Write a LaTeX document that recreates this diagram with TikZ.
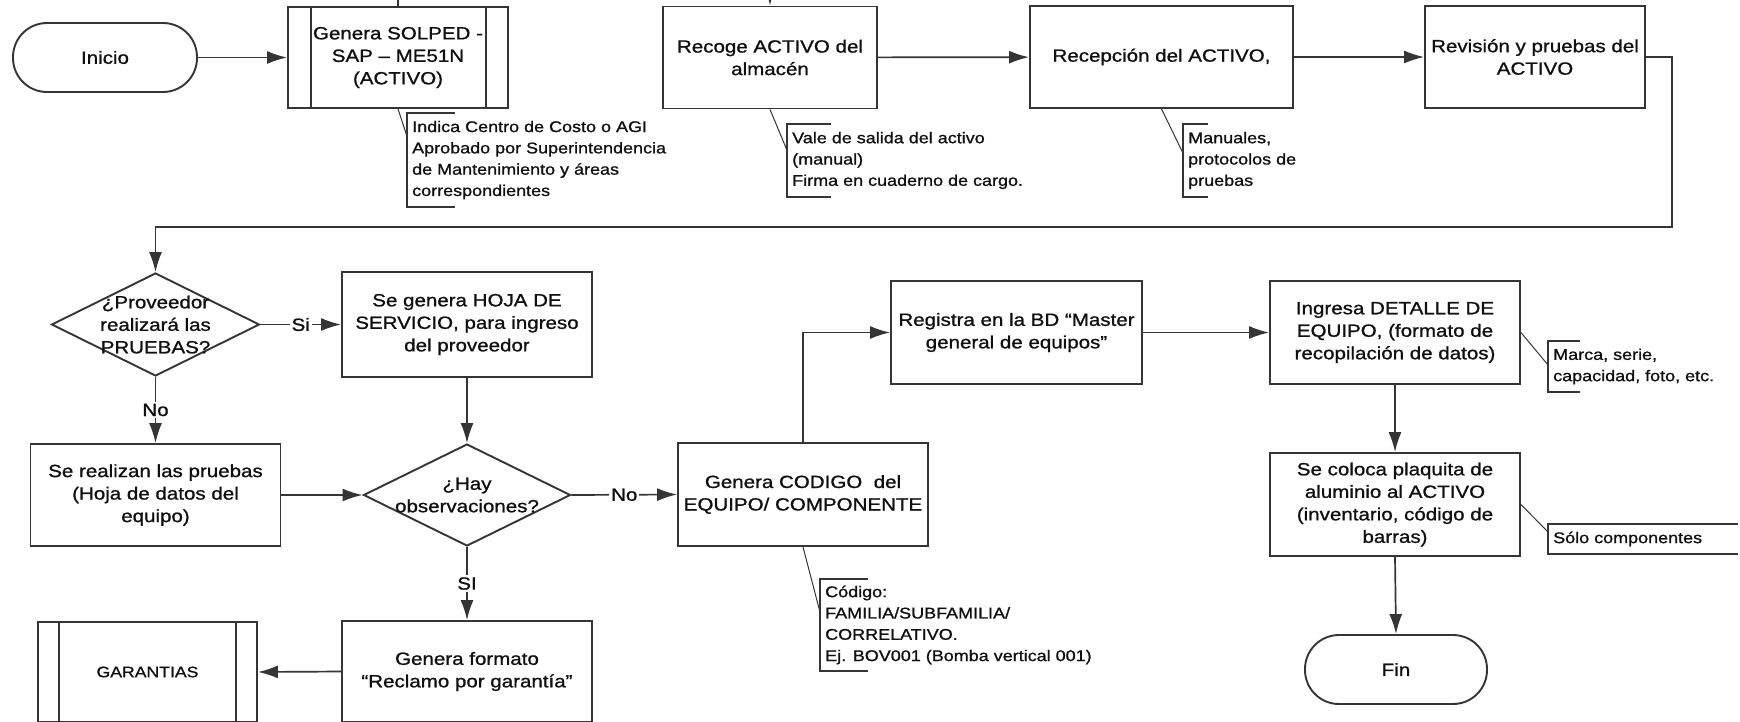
\documentclass[tikz,border=0pt]{standalone}
\usepackage{fontspec}
\setmainfont{Liberation Sans}[FakeStretch=1.16,FakeBold=1]
\usetikzlibrary{arrows.meta,shapes.geometric,calc}

\definecolor{ink}{HTML}{353535}
\definecolor{txt}{HTML}{101010}

\begin{document}
\begin{tikzpicture}[x=1pt,y=-1pt,
  every node/.style={text=txt},
  proc/.style={draw=ink, line width=1.9pt, align=center, inner sep=0pt,
    font=\fontsize{17.7}{22.5}\selectfont},
  term/.style={proc, rounded corners=34pt},
  decision/.style={draw=ink, line width=1.9pt, diamond, inner sep=0pt},
  qtext/.style={align=center, inner sep=0pt, font=\fontsize{17.7}{22.5}\selectfont},
  note/.style={align=left, anchor=west, inner xsep=5pt, inner ysep=0pt,
    font=\fontsize{15.5}{21.3}\selectfont},
  bracket/.style={draw=ink, line width=2pt},
  link/.style={draw=ink, line width=1pt},
  flow/.style={draw=ink, line width=1.7pt, -{Latex[length=20pt,width=13pt]}},
  plain/.style={draw=ink, line width=1.7pt},
  lbl/.style={fill=white, inner sep=2pt, font=\fontsize{17.7}{20}\selectfont},
  sidebar/.style={draw=ink, line width=1.5pt},
]
\useasboundingbox (0,0) rectangle (1740,721);
\fill[white] (0,0) rectangle (1740,721);

% ---- first row
\node[term, minimum width=184pt, minimum height=69pt] (inicio) at (105,57.5) {Inicio};
\node[proc, minimum width=220pt, minimum height=101pt] (solped) at (398,57.5)
  {Genera SOLPED -\\SAP – ME51N\\(ACTIVO)};
\draw[sidebar] ($(solped.north west)+(24,0)$) -- ($(solped.south west)+(24,0)$);
\draw[sidebar] ($(solped.north east)+(-23,0)$) -- ($(solped.south east)+(-23,0)$);
\node[proc, minimum width=214pt, minimum height=102pt] (recoge) at (770,57.5)
  {Recoge ACTIVO del\\almacén};
\node[proc, minimum width=263pt, minimum height=102pt] (recep) at (1161.5,57)
  {Recepción del ACTIVO,};
\node[proc, minimum width=220pt, minimum height=102pt] (revision) at (1535,57)
  {Revisión y pruebas del\\ACTIVO};

% incoming lines from the previous sheet
\coordinate (topA) at (398,-20);
\coordinate (topB) at (770,-25);
\draw[plain] (topA) -- (solped.north);
\draw[flow] (topB) -- (recoge.north);

\draw[flow] (inicio) -- (solped);
\draw[flow] (recoge) -- (recep);
\draw[flow] (recep) -- (revision);

% ---- second and third rows
\node[decision, minimum width=208pt, minimum height=103pt] (d1) at (155.5,324.5) {};
\node[qtext] (d1t) at (d1) {¿Proveedor\\realizará las\\PRUEBAS?};
\node[proc, minimum width=250pt, minimum height=105pt] (servicio) at (467,324.5)
  {Se genera HOJA DE\\SERVICIO, para ingreso\\del proveedor};
\node[proc, minimum width=250pt, minimum height=102pt] (realizan) at (155.5,495)
  {Se realizan las pruebas\\(Hoja de datos del\\equipo)};
\node[decision, minimum width=207pt, minimum height=102pt] (hay) at (467,495) {};
\node[qtext] (hayt) at (hay) {¿Hay\\observaciones?};
\node[proc, minimum width=250pt, minimum height=103pt] (codigo) at (803,494.5)
  {Genera CODIGO\ \ del\\EQUIPO/ COMPONENTE};
\node[proc, minimum width=251pt, minimum height=103pt] (registra) at (1016.5,332.5)
  {Registra en la BD “Master\\general de equipos”};
\node[proc, minimum width=250pt, minimum height=103pt] (ingresa) at (1395,332.5)
  {Ingresa DETALLE DE\\EQUIPO, (formato de\\recopilación de datos)};
\node[proc, minimum width=250pt, minimum height=103pt] (plaquita) at (1395,504.5)
  {Se coloca plaquita de\\aluminio al ACTIVO\\(inventario, código de\\barras)};
\node[term, minimum width=182pt, minimum height=69pt] (fin) at (1396,669.5) {Fin};
\node[proc, minimum width=250pt, minimum height=101pt] (reclamo) at (467,671.5)
  {Genera formato\\“Reclamo por garantía”};
\node[proc, minimum width=219pt, minimum height=100pt,
  font=\fontsize{15.2}{18}\selectfont] (garantias) at (147.5,672) {GARANTIAS};
\draw[sidebar] ($(garantias.north west)+(22,0)$) -- ($(garantias.south west)+(22,0)$);
\draw[sidebar] ($(garantias.north east)+(-22,0)$) -- ($(garantias.south east)+(-22,0)$);

% ---- connectors
\coordinate (loopR) at (1672,227);
\draw[flow] (revision.east) -| (loopR) -- (loopR -| d1.north) -- (d1.north);
\draw[flow] (d1.east) -- node[lbl] (lsi) {Si} (servicio.west);
\draw[flow] (d1.south) -- node[lbl] (lno1) {No} (realizan.north);
\draw[flow] (servicio.south) -- (hay.north);
\draw[flow] (realizan.east) -- (hay.west);
\draw[flow] (hay.east) -- node[lbl] (lno2) {No} (codigo.west);
\draw[flow] (hay.south) -- node[lbl] (lsi2) {SI} (reclamo.north);
\draw[flow] (reclamo.west) -- (garantias.east);
\draw[flow] (codigo.north) |- (registra.west);
\draw[flow] (registra.east) -- (ingresa.west);
\draw[flow] (ingresa.south) -- (plaquita.north);
\draw[flow] (plaquita.south) -- (fin.north);

% ---- bracketed notes
\node[note, minimum height=94pt] (n1) at (407,160)
  {Indica Centro de Costo o AGI\\Aprobado por Superintendencia\\de Mantenimiento y áreas\\correspondientes};
\draw[bracket] ($(n1.north west)+(48,0)$) -- (n1.north west) -- (n1.south west) -- ++(48,0);
\draw[link] (solped.south) -- ($(n1.north west)!0.25!(n1.south west)$);

\node[note, minimum height=73pt] (n2) at (787,160.5)
  {Vale de salida del activo\\(manual)\\Firma en cuaderno de cargo.};
\draw[bracket] ($(n2.north west)+(44,0)$) -- (n2.north west) -- (n2.south west) -- ++(44,0);
\draw[link] (recoge.south) -- ($(n2.north west)!0.36!(n2.south west)$);

\node[note, minimum height=73pt] (n3) at (1183,160.5)
  {Manuales,\\protocolos de\\pruebas};
\draw[bracket] ($(n3.north west)+(25,0)$) -- (n3.north west) -- (n3.south west) -- ++(25,0);
\draw[link] (recep.south) -- ($(n3.north west)!0.4!(n3.south west)$);

\node[note, minimum height=51pt] (n4) at (1548,366.5)
  {Marca, serie,\\capacidad, foto, etc.};
\draw[bracket] ($(n4.north west)+(32,0)$) -- (n4.north west) -- (n4.south west) -- ++(32,0);
\draw[link] (ingresa.east) -- ($(n4.north west)!0.47!(n4.south west)$);

\node[note, minimum height=30pt] (n5) at (1548,539) {Sólo componentes};
\draw[bracket] ($(n5.north west)+(190,0)$) -- (n5.north west) -- (n5.south west) -- ++(190,0);
\draw[link] (plaquita.east) -- ($(n5.north west)!0.27!(n5.south west)$);

\node[note, minimum height=92pt] (n6) at (820,625)
  {Código:\\FAMILIA/SUBFAMILIA/\\CORRELATIVO.\\Ej. BOV001 (Bomba vertical 001)};
\draw[bracket] ($(n6.north west)+(48,0)$) -- (n6.north west) -- (n6.south west) -- ++(48,0);
\draw[link] (codigo.south) -- ($(n6.north west)!0.36!(n6.south west)$);
\end{tikzpicture}
\end{document}
